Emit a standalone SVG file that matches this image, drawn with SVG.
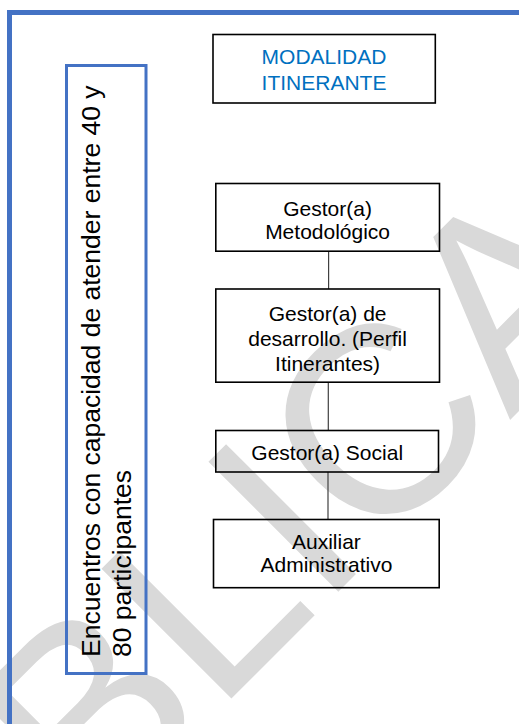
<svg xmlns="http://www.w3.org/2000/svg" width="519" height="724" viewBox="0 0 519 724">
  <style>
    .box { fill: none; stroke: #000000; stroke-width: 1.6; }
    .lbl { font-family: "Liberation Sans", Arial, sans-serif; font-size: 21px; fill: #000000; text-anchor: middle; }
    .blue { fill: #0070C0; }
    .side { font-family: "Liberation Sans", Arial, sans-serif; font-size: 26.5px; fill: #000000; }
    .wm { font-family: "Liberation Sans", Arial, sans-serif; font-size: 267px; fill: #d9d9d9; }
    .conn { stroke: #404040; stroke-width: 1.2; fill: none; }
  </style>
  <rect x="0" y="0" width="519" height="724" fill="#ffffff"/>
  <g id="watermark">
    <text class="wm" x="90" y="840" transform="rotate(-45 90 840)">BLICA</text>
  </g>
  <g id="frame">
    <rect x="9.5" y="12.5" width="620" height="800" fill="none" stroke="#4472C4" stroke-width="5"/>
  </g>
  <g id="side-box">
    <rect x="66.5" y="65.5" width="79.5" height="608" fill="none" stroke="#4472C4" stroke-width="3"/>
    <text class="side" transform="translate(99.5 657) rotate(-90)" x="0" y="0">Encuentros con capacidad de atender entre 40 y</text>
    <text class="side" transform="translate(131 657) rotate(-90)" x="0" y="0">80 participantes</text>
  </g>
  <g id="connectors">
    <line class="conn" x1="328.6" y1="251.5" x2="328.6" y2="289"/>
    <line class="conn" x1="328.3" y1="382.5" x2="328.3" y2="430.5"/>
    <line class="conn" x1="328" y1="472" x2="328" y2="519.5"/>
  </g>
  <g id="modalidad">
    <rect class="box" x="213" y="34.5" width="222.3" height="68.5"/>
    <text class="lbl blue" x="324" y="63.5">MODALIDAD</text>
    <text class="lbl blue" x="324" y="89.5">ITINERANTE</text>
  </g>
  <g id="gestor-metodologico">
    <rect class="box" x="215.8" y="183.5" width="223.7" height="67.7"/>
    <text class="lbl" x="327.6" y="215.5">Gestor(a)</text>
    <text class="lbl" x="327.6" y="239">Metodológico</text>
  </g>
  <g id="gestor-desarrollo">
    <rect class="box" x="215.8" y="289" width="223.7" height="93.2"/>
    <text class="lbl" x="327.6" y="321">Gestor(a) de</text>
    <text class="lbl" x="327.6" y="346">desarrollo. (Perfil</text>
    <text class="lbl" x="327.6" y="371">Itinerantes)</text>
  </g>
  <g id="gestor-social">
    <rect class="box" x="215.8" y="430.5" width="222.7" height="41.5"/>
    <text class="lbl" x="327.2" y="459.5">Gestor(a) Social</text>
  </g>
  <g id="auxiliar">
    <rect class="box" x="213.5" y="519.5" width="225.7" height="68.2"/>
    <text class="lbl" x="326.4" y="548.5">Auxiliar</text>
    <text class="lbl" x="326.4" y="572">Administrativo</text>
  </g>
</svg>
